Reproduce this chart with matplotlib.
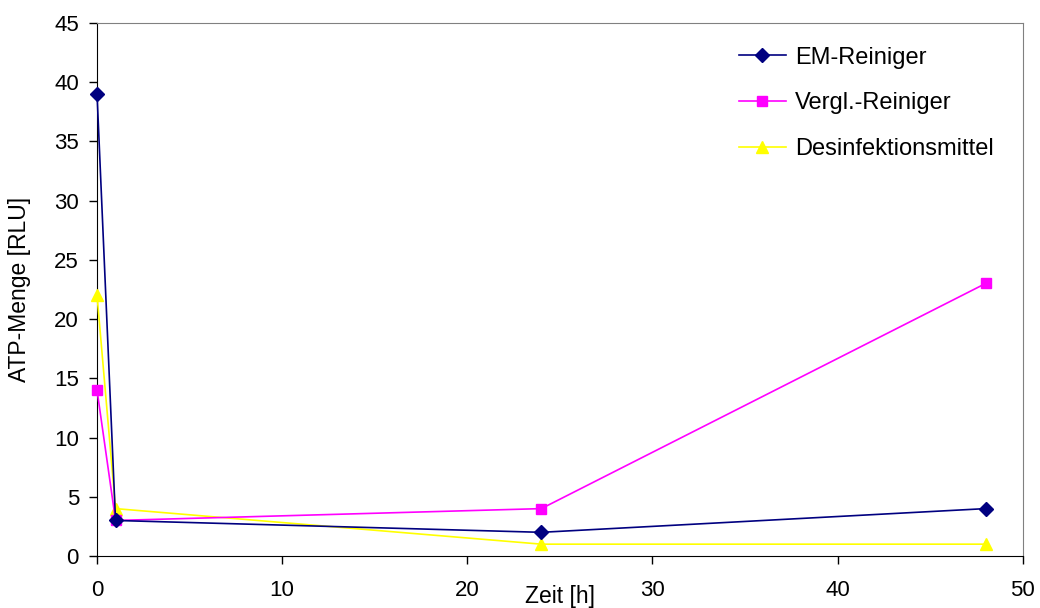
import matplotlib.pyplot as plt

plt.rcParams['font.family'] = ['Liberation Sans', 'DejaVu Sans']

# Data
zeit = [0, 1, 24, 48]
em_reiniger = [39, 3, 2, 4]
vergl_reiniger = [14, 3, 4, 23]
desinfektionsmittel = [22, 4, 1, 1]

x_ticks = [0, 10, 20, 30, 40, 50]
y_ticks = [0, 5, 10, 15, 20, 25, 30, 35, 40, 45]

fig = plt.figure(figsize=(10.4, 6.08), dpi=100)
ax = fig.add_axes([0.0933, 0.0855, 0.89, 0.877])

ax.plot(zeit, em_reiniger, marker='D', markersize=7, color='#000080', linewidth=1.2,
        label='EM-Reiniger', clip_on=False, zorder=5)
ax.plot(zeit, vergl_reiniger, marker='s', markersize=7, color='#FF00FF', linewidth=1.2,
        label='Vergl.-Reiniger', clip_on=False, zorder=4)
ax.plot(zeit, desinfektionsmittel, marker='^', markersize=8, color='#FFFF00', linewidth=1.2,
        label='Desinfektionsmittel', clip_on=False, zorder=3)

ax.set_xlim(0, 50)
ax.set_ylim(0, 45)
ax.set_xticks(x_ticks)
ax.set_yticks(y_ticks)
ax.tick_params(axis='both', direction='out', length=6, width=1, labelsize=16, color='black')
ax.tick_params(axis='x', pad=11)
ax.tick_params(axis='y', pad=7)

for side in ['top', 'right']:
    ax.spines[side].set_color('#808080')
for side in ['left', 'bottom']:
    ax.spines[side].set_color('black')

ax.set_xlabel('Zeit [h]', fontsize=16.5)
ax.xaxis.set_label_coords(0.5, -0.075)
ax.xaxis.label.set_va('center')
ax.set_ylabel('ATP-Menge [RLU]', fontsize=16.5)
ax.yaxis.set_label_coords(-0.084, 0.5)
ax.yaxis.label.set_va('center')

ax.legend(loc='upper right', bbox_to_anchor=(0.992, 0.995), frameon=False, fontsize=17,
          labelspacing=1.0, handlelength=2.0, handletextpad=0.4)

fig.savefig('out.png', dpi=100)
